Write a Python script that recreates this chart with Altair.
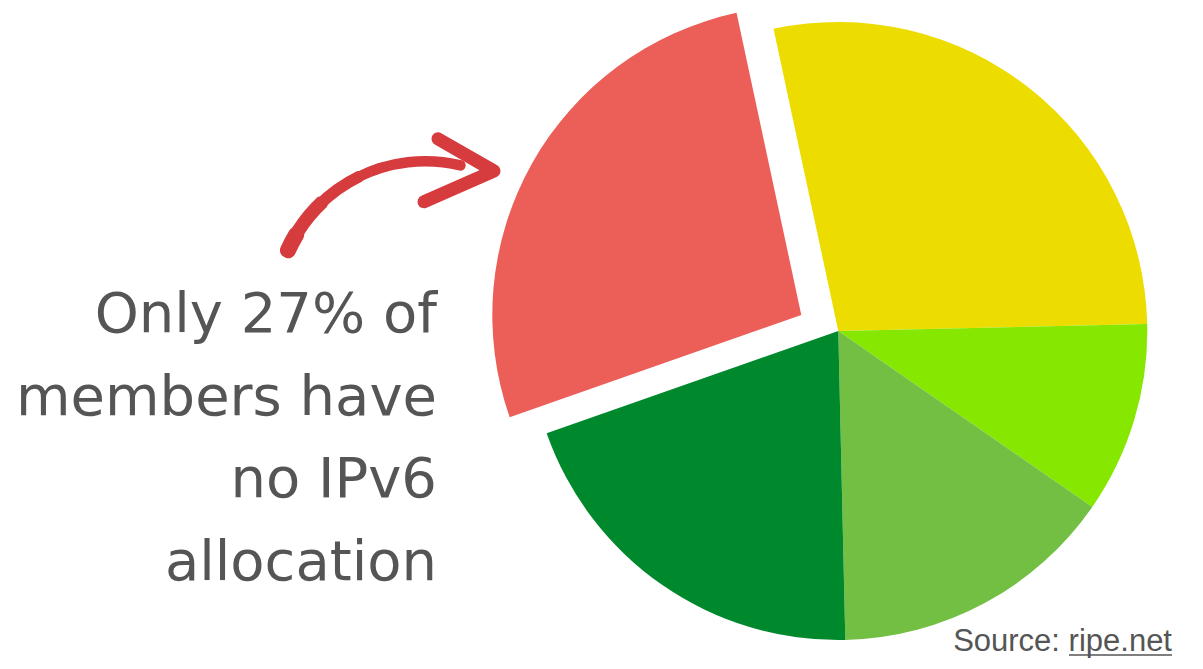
import math
import altair as alt
import pandas as pd

# ---- data -------------------------------------------------------------
categories = ["1 star", "2 stars", "3 stars", "4 stars", "No IPv6"]
shares = [28, 10, 15, 20, 27]
colors = ["#EDDC00", "#86E800", "#72BF44", "#00882D", "#EC5F59"]
highlight = "No IPv6"
caption_lines = ["Only 27% of", "members have", "no IPv6", "allocation"]
source_text = "Source: ripe.net"

# ---- layout / style ---------------------------------------------------
W, H = 1187, 653
CX, CY, R = 830.3, 323, 309
START_DEG = -12.1
EXPLODE_DX, EXPLODE_DY = -37, -16
ARROW_RED = "#D63B3E"
TEXT_GREY = "#555555"

# tapered arrow shaft pieces (annotation styling): start, end angle, outer, inner radius
shaft_t0 = [-1.20, -1.02, -0.80, -0.50]
shaft_t1 = [-0.98, -0.74, -0.44, 0.27]
shaft_ro = [158.5, 157.5, 156.5, 156.0]
shaft_ri = [142.5, 144.0, 145.0, 145.5]
shaft_cr = [7.5, 2, 2, 5]

df = pd.DataFrame({"category": categories, "share": shares,
                   "order": list(range(len(categories)))})

total = sum(shares)
start = math.radians(START_DEG)
theta_scale = alt.Scale(domain=[0, total], range=[start, start + 2 * math.pi])
color_scale = alt.Scale(domain=categories, range=colors)

base = (
    alt.Chart(df)
    .transform_window(cum="sum(share)", sort=[alt.SortField("order")])
    .transform_calculate(start="datum.cum - datum.share")
)
enc = dict(
    theta=alt.Theta("start:Q", scale=theta_scale),
    theta2=alt.Theta2("cum:Q"),
    color=alt.Color("category:N", scale=color_scale, legend=None),
)

pie = (
    base.transform_filter(alt.datum.category != highlight)
    .mark_arc(radius=R)
    .encode(x=alt.value(CX), y=alt.value(CY), **enc)
)
pie_red = (
    base.transform_filter(alt.datum.category == highlight)
    .mark_arc(radius=R)
    .encode(x=alt.value(CX + EXPLODE_DX), y=alt.value(CY + EXPLODE_DY), **enc)
)

one = pd.DataFrame({"k": [0]})

# caption
caption = (
    alt.Chart(pd.DataFrame({"t": ["\n".join(caption_lines)]}))
    .mark_text(align="right", baseline="alphabetic", font="DejaVu Sans",
               fontSize=56, lineHeight=82.5, color=TEXT_GREY, lineBreak="\n")
    .encode(text="t:N", x=alt.value(429), y=alt.value(324))
)

# curved arrow (annotation)
shaft_layers = []
for t0, t1, ro, ri, cr in zip(shaft_t0, shaft_t1, shaft_ro, shaft_ri, shaft_cr):
    shaft_layers.append(
        alt.Chart(one)
        .mark_arc(radius=ro, radius2=ri, cornerRadius=cr, color=ARROW_RED)
        .encode(x=alt.value(417.3), y=alt.value(304),
                theta=alt.value(t0), theta2=alt.value(t1))
    )
head = (
    alt.Chart(one)
    .mark_point(shape="M -0.80 -0.46 L 0 0 L -1.0 0.44", size=19600,
                filled=False, strokeWidth=13, strokeCap="round",
                strokeJoin="round", color=ARROW_RED, opacity=1)
    .encode(x=alt.value(486), y=alt.value(163))
)

# source
source = (
    alt.Chart(pd.DataFrame({"t": [source_text]}))
    .mark_text(align="right", baseline="alphabetic", font="Liberation Sans",
               fontSize=31, color=TEXT_GREY)
    .encode(text="t:N", x=alt.value(1164), y=alt.value(643))
)
underline = (
    alt.Chart(one)
    .mark_rule(color=TEXT_GREY, strokeWidth=1.5)
    .encode(x=alt.value(1061), x2=alt.value(1164), y=alt.value(647))
)

chart = (
    alt.layer(pie, pie_red, *shaft_layers, head, caption, source, underline)
    .properties(width=W, height=H, padding=0, autosize=alt.AutoSizeParams(type="none"),
                background="white")
    .configure_view(stroke=None)
)

chart.save("out.html", embed_options={"renderer": "svg", "actions": False})
